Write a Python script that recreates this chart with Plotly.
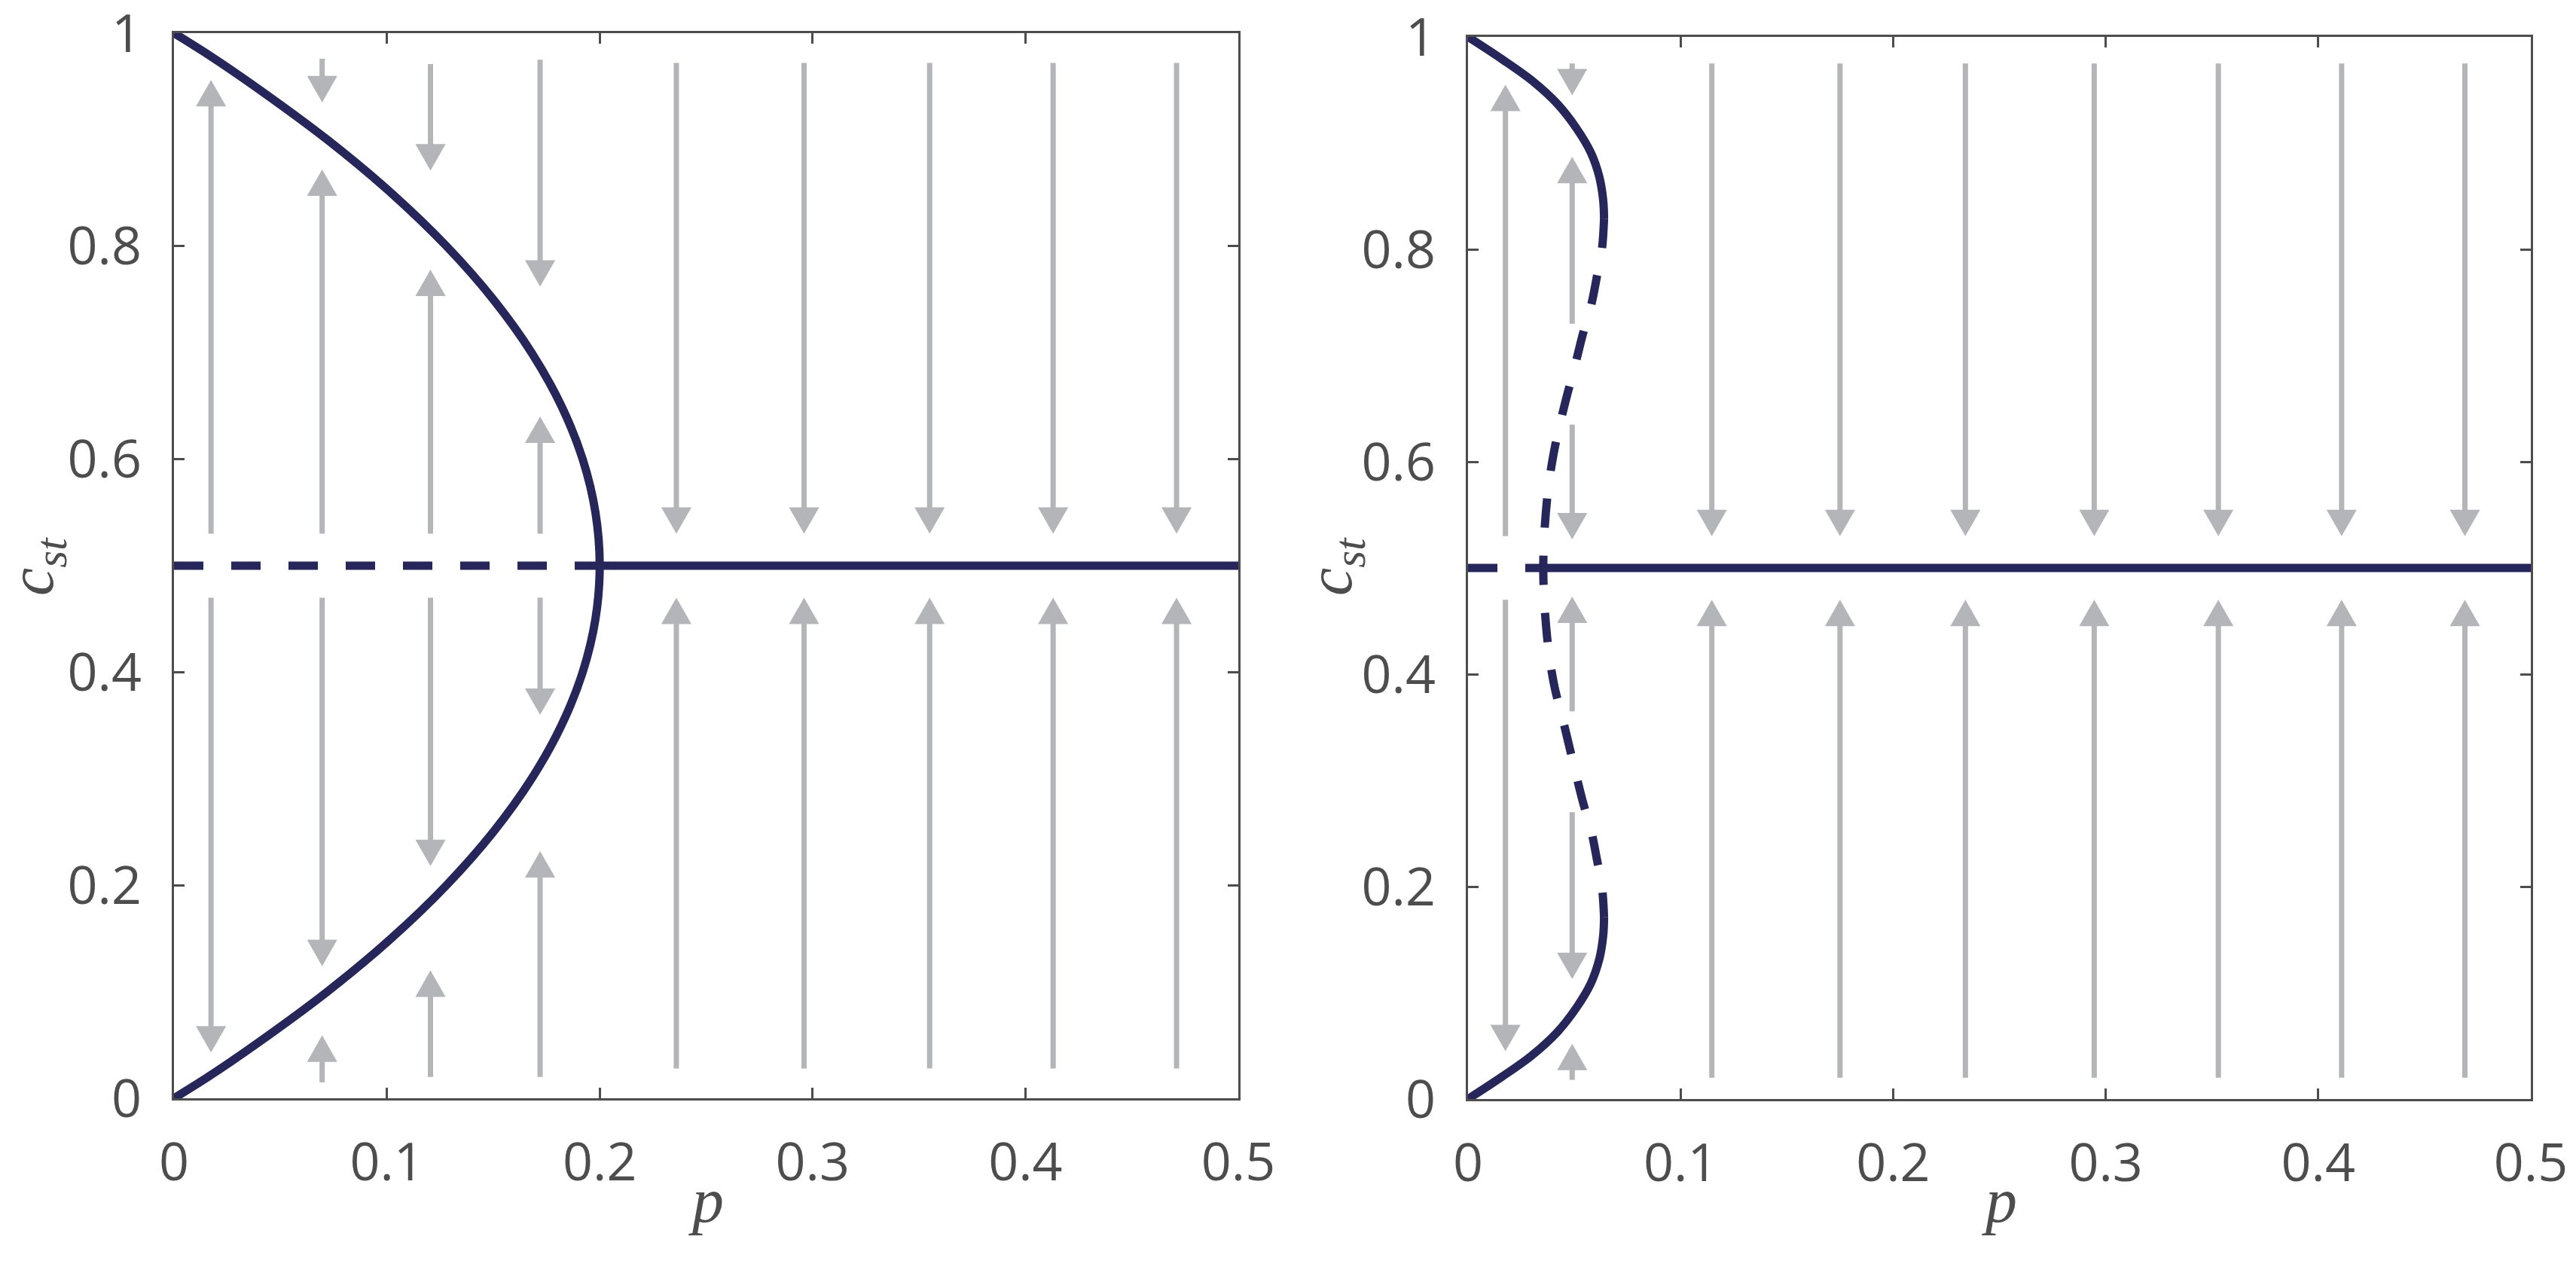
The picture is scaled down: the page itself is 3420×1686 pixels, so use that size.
import plotly.graph_objects as go

# the page body keeps its default 8px margin, so the figure is drawn 8px in
OFF = 8
W, H = 3420 - 2 * OFF, 1686 - 2 * OFF
NAVY = "#26265a"
GREY = "#b4b5b9"
AXIS = "#4d4d4d"

# left panel: stable branch of the curve (p against c)
left_curve_c = [0, 0.02, 0.05, 0.1, 0.15, 0.2, 0.25, 0.3, 0.35, 0.4, 0.45, 0.5,
                0.55, 0.6, 0.65, 0.7, 0.75, 0.8, 0.85, 0.9, 0.95, 0.98, 1.0]
left_curve_p = [0, 0.016, 0.038, 0.072, 0.102, 0.128, 0.150, 0.168, 0.182, 0.192, 0.198, 0.200,
                0.198, 0.192, 0.182, 0.168, 0.150, 0.128, 0.102, 0.072, 0.038, 0.016, 0]
left_fold_p = 0.2

# right panel branches
right_top_p = [0, 0.016, 0.030, 0.042, 0.051, 0.0578, 0.0618, 0.0636, 0.064]
right_top_c = [1.0, 0.979, 0.959, 0.937, 0.914, 0.891, 0.868, 0.846, 0.829]
right_mid_p = [0.064, 0.063, 0.0606, 0.058, 0.054, 0.051, 0.045, 0.0404, 0.0372, 0.0354,
               0.0372, 0.0404, 0.045, 0.051, 0.054, 0.058, 0.0606, 0.063, 0.064]
right_mid_c = [0.829, 0.80, 0.774, 0.748, 0.72, 0.696, 0.65, 0.609, 0.565, 0.5,
               0.435, 0.391, 0.354, 0.304, 0.28, 0.252, 0.226, 0.20, 0.171]
right_bot_p = [0.064, 0.0636, 0.0618, 0.0578, 0.051, 0.042, 0.030, 0.016, 0]
right_bot_c = [0.171, 0.154, 0.132, 0.109, 0.086, 0.063, 0.041, 0.021, 0]
right_fold_p = 0.0354

# arrows: column p, start c, tip c
left_arrow_p = [0.0174, 0.0174,
                0.0696, 0.0696, 0.0696, 0.0696,
                0.1205, 0.1205, 0.1205, 0.1205,
                0.172, 0.172, 0.172, 0.172,
                0.236, 0.236, 0.296, 0.296, 0.355, 0.355, 0.413, 0.413, 0.471, 0.471]
left_arrow_c0 = [0.53, 0.47,
                 0.976, 0.53, 0.47, 0.015,
                 0.971, 0.53, 0.47, 0.02,
                 0.975, 0.53, 0.47, 0.02,
                 0.972, 0.028, 0.972, 0.028, 0.972, 0.028, 0.972, 0.028, 0.972, 0.028]
left_arrow_c1 = [0.956, 0.043,
                 0.935, 0.872, 0.124, 0.059,
                 0.871, 0.778, 0.218, 0.12,
                 0.762, 0.64, 0.36, 0.232,
                 0.53, 0.47, 0.53, 0.47, 0.53, 0.47, 0.53, 0.47, 0.53, 0.47]

right_arrow_p = [0.0176, 0.0176,
                 0.049, 0.049, 0.049, 0.049, 0.049, 0.049,
                 0.1147, 0.1147, 0.175, 0.175, 0.234, 0.234, 0.2946, 0.2946,
                 0.353, 0.353, 0.411, 0.411, 0.469, 0.469]
right_arrow_c0 = [0.53, 0.47,
                  0.975, 0.73, 0.635, 0.365, 0.27, 0.018,
                  0.975, 0.02, 0.975, 0.02, 0.975, 0.02, 0.975, 0.02,
                  0.975, 0.02, 0.975, 0.02, 0.975, 0.02]
right_arrow_c1 = [0.955, 0.045,
                  0.945, 0.887, 0.527, 0.473, 0.113, 0.052,
                  0.53, 0.47, 0.53, 0.47, 0.53, 0.47, 0.53, 0.47,
                  0.53, 0.47, 0.53, 0.47, 0.53, 0.47]

x_ticks = [0, 0.1, 0.2, 0.3, 0.4, 0.5]
y_ticks = [0, 0.2, 0.4, 0.6, 0.8, 1]

HEAD_W = 0.0071   # half width in p units
HEAD_H = 0.0248   # height in c units


def sx(px):
    return (px - OFF) / W


def sy(py):
    return 1 - (py - OFF) / H


def arrow_traces(ps, c0s, c1s, xa, ya):
    lx, ly, hx, hy = [], [], [], []
    for p, c0, c1 in zip(ps, c0s, c1s):
        d = 1 if c1 > c0 else -1
        base = c1 - d * HEAD_H
        lx += [p, p, None]
        ly += [c0, base + d * 0.004, None]
        hx += [p - HEAD_W, p + HEAD_W, p, p - HEAD_W, None]
        hy += [base, base, c1, base, None]
    return [
        go.Scatter(x=lx, y=ly, mode="lines", line=dict(color=GREY, width=7),
                   xaxis=xa, yaxis=ya, hoverinfo="skip", showlegend=False),
        go.Scatter(x=hx, y=hy, mode="lines", fill="toself", fillcolor=GREY,
                   line=dict(width=0, color=GREY), xaxis=xa, yaxis=ya,
                   hoverinfo="skip", showlegend=False),
    ]


def line(x, y, xa, ya, dash="solid", shape="spline"):
    return go.Scatter(x=x, y=y, mode="lines",
                      line=dict(color=NAVY, width=11, dash=dash, shape=shape),
                      xaxis=xa, yaxis=ya, hoverinfo="skip", showlegend=False)


fig = go.Figure()
for t in arrow_traces(left_arrow_p, left_arrow_c0, left_arrow_c1, "x", "y"):
    fig.add_trace(t)
for t in arrow_traces(right_arrow_p, right_arrow_c0, right_arrow_c1, "x2", "y2"):
    fig.add_trace(t)

DASH = "39px,37px"
fig.add_trace(line(left_curve_p, left_curve_c, "x", "y"))
fig.add_trace(line([0, left_fold_p], [0.5, 0.5], "x", "y", dash=DASH, shape="linear"))
fig.add_trace(line([left_fold_p, 0.5], [0.5, 0.5], "x", "y", shape="linear"))

fig.add_trace(line(right_top_p, right_top_c, "x2", "y2"))
fig.add_trace(line(right_mid_p, right_mid_c, "x2", "y2", dash=DASH))
fig.add_trace(line(right_bot_p, right_bot_c, "x2", "y2"))
fig.add_trace(line([0, right_fold_p], [0.5, 0.5], "x2", "y2", dash=DASH, shape="linear"))
fig.add_trace(line([right_fold_p, 0.5], [0.5, 0.5], "x2", "y2", shape="linear"))

tick_font = dict(family="Open Sans", size=70, color=AXIS)
axis_common = dict(showline=True, linecolor=AXIS, linewidth=3, mirror="ticks",
                   ticks="inside", ticklen=14, tickwidth=2.5, tickcolor=AXIS,
                   showgrid=False, zeroline=False, tickfont=tick_font,
                   ticklabeloverflow="allow", automargin=False)

fig.update_layout(
    width=W, height=H, autosize=False,
    margin=dict(l=0, r=0, t=0, b=0, autoexpand=False),
    paper_bgcolor="white", plot_bgcolor="white",
    xaxis=dict(domain=[sx(231), sx(1644)], range=[0, 0.5], tickvals=x_ticks,
               anchor="y", ticklabelstandoff=22, **axis_common),
    yaxis=dict(domain=[sy(1458), sy(44)], range=[0, 1], tickvals=y_ticks,
               anchor="x", ticklabelstandoff=26, **axis_common),
    xaxis2=dict(domain=[sx(1949), sx(3360)], range=[0, 0.5], tickvals=x_ticks,
                anchor="y2", ticklabelstandoff=22, **axis_common),
    yaxis2=dict(domain=[sy(1459), sy(49)], range=[0, 1], tickvals=y_ticks,
                anchor="x2", ticklabelstandoff=26, **axis_common),
)

title_font = dict(family="Liberation Serif", size=84, color=AXIS)
for xc in (937.5, 2654.5):
    fig.add_annotation(x=sx(xc), y=sy(1593), xref="paper", yref="paper",
                       text="<i>p</i>", showarrow=False, font=title_font,
                       xanchor="center", yanchor="middle")
for xc in (48, 1772):
    fig.add_annotation(x=sx(xc), y=sy(752), xref="paper", yref="paper",
                       text="<i>c</i><sub><i>st</i></sub>", showarrow=False,
                       font=title_font, textangle=-90,
                       xanchor="center", yanchor="middle")

fig.write_html("out.html")
